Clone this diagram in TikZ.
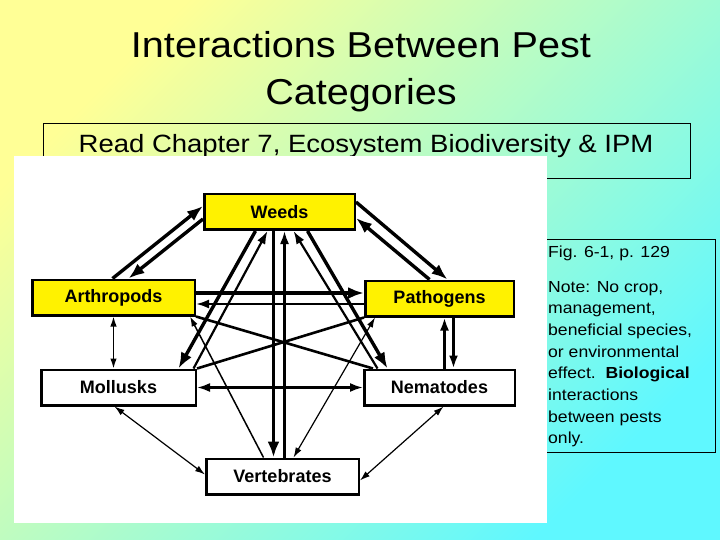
\documentclass[tikz,border=0pt]{standalone}
\usepackage{fontspec}
\setmainfont{Liberation Sans}
\newfontfamily\slidefont[FakeStretch=1.1]{Liberation Sans}
\usetikzlibrary{arrows.meta, calc}
\definecolor{slideyellow}{RGB}{255,255,150}
\definecolor{slidecyan}{RGB}{95,248,255}
\tikzset{
  pest/.style={draw, line width=2.5pt, minimum width=#1, minimum height=35.5pt,
    inner sep=0pt, font=\bfseries\fontsize{18}{20}\selectfont},
  yellowbox/.style={pest=#1, fill=yellow},
  whitebox/.style={pest=#1, fill=white},
  heavy/.style={line width=3.4pt, >={Latex[length=16pt,width=12pt]}},
  medium/.style={line width=2.2pt, >={Latex[length=13pt,width=9pt]}},
  light/.style={line width=1.2pt, >={Latex[length=10pt,width=6.5pt]}},
  notetext/.style={anchor=base west, inner sep=0pt, font=\slidefont\fontsize{16}{20}\selectfont}
}
\begin{document}
\begin{tikzpicture}[x=1pt, y=-1pt]
  \useasboundingbox (0,0) rectangle (720,540);
  \shade[top color=slideyellow, bottom color=slidecyan, shading angle=45] (0,0) rectangle (720,540);
  % slide heading
  \node[anchor=base, inner sep=0pt, font=\slidefont\fontsize{36}{40}\selectfont] (title1) at (361,58) {Interactions Between Pest};
  \node[anchor=base, inner sep=0pt, font=\slidefont\fontsize{36}{40}\selectfont] (title2) at (361,105) {Categories};
  \draw[line width=0.8pt] (43,123) rectangle (690,178);
  \node[anchor=base, inner sep=0pt, font=\slidefont\fontsize{25}{30}\selectfont] (reading) at (366,153) {Read Chapter 7, Ecosystem Biodiversity \& IPM};
  % side note
  \draw[line width=0.8pt] (530,239) rectangle (715,452);
  \node[notetext] (figref) at (548,257) {Fig. 6-1, p. 129};
  \foreach \txt [count=\i] in {{Note: No crop,}, {management,}, {beneficial species,}, {or environmental}, {effect.\ \ \textbf{Biological}}, {interactions}, {between pests}, {only.}}
    \node[notetext] (note\i) at (548,{292+21.7*(\i-1)}) {\txt};
  % figure panel
  \fill[white] (14,156) rectangle (547,523);
  \node[yellowbox=150.5pt] (weeds) at (279.5,212) {Weeds};
  \node[yellowbox=162.5pt] (arth) at (113.5,297.5) {Arthropods};
  \node[yellowbox=148.5pt] (path) at (439.5,298.5) {Pathogens};
  \node[whitebox=154.5pt] (moll) at (118.5,387.5) {Mollusks};
  \node[whitebox=150.5pt] (nema) at (439.5,387.5) {Nematodes};
  \node[whitebox=152.5pt] (vert) at (282.5,476.5) {Vertebrates};
  % weeds
  \draw[heavy,->] ([xshift=-1pt]arth.north) -- ([yshift=6pt]weeds.west);
  \draw[heavy,->] ([yshift=-7pt]weeds.west) -- ([xshift=15pt]arth.north);
  \draw[heavy,->] ([yshift=10pt]weeds.east) -- ([xshift=8pt]path.north);
  \draw[heavy,->] ([xshift=-10pt]path.north) -- ([yshift=-6pt]weeds.east);
  \draw[heavy,->] ([xshift=-24pt]weeds.south) -- ([xshift=60pt]moll.north);
  \draw[medium,->] ([xshift=75pt]moll.north) -- ([xshift=-12pt]weeds.south);
  \draw[heavy,->,line width=3.8pt] ([xshift=-6pt]weeds.south) -- ([xshift=-9pt]vert.north);
  \draw[medium,->] ([xshift=2pt]vert.north) -- ([xshift=5pt]weeds.south);
  \draw[medium,->] ([xshift=-62pt]nema.north) -- ([xshift=14pt]weeds.south);
  \draw[heavy,->] ([xshift=28pt]weeds.south) -- ([xshift=-52pt]nema.north);
  % arthropods and pathogens
  \draw[heavy,->,line width=3.8pt] ([yshift=4.5pt]arth.east) -- ([yshift=5.5pt]path.west);
  \draw[medium,->] ([yshift=-5.5pt]path.west) -- ([yshift=-6.5pt]arth.east);
  \draw[light,<->,line width=1.4pt] (arth.south) -- ([xshift=-5pt]moll.north);
  \draw[medium,->,line width=2.7pt] ([xshift=5pt]nema.north) -- ([xshift=5pt]path.south);
  \draw[medium,->,line width=2.7pt] ([xshift=14pt]path.south) -- ([xshift=14pt]nema.north);
  \draw[medium,line width=2.6pt] (arth.south east) -- ([xshift=10pt]nema.north west);
  \draw[medium,line width=2.6pt] (path.south west) -- (moll.north east);
  % lower links
  \draw[medium,<->] (moll.east) -- (nema.west);
  \draw[light,<->] ([xshift=-4pt]moll.south) -- ([yshift=2pt]vert.west);
  \draw[light,<->] ([xshift=4pt]nema.south) -- ([yshift=-4pt]vert.east);
  \draw[light,->,line width=1.5pt] ([xshift=-19pt]vert.north) -- ([xshift=-6pt]arth.south east);
  \draw[light,<->] ([xshift=11pt]vert.north) -- ([xshift=11pt]path.south west);
\end{tikzpicture}
\end{document}
